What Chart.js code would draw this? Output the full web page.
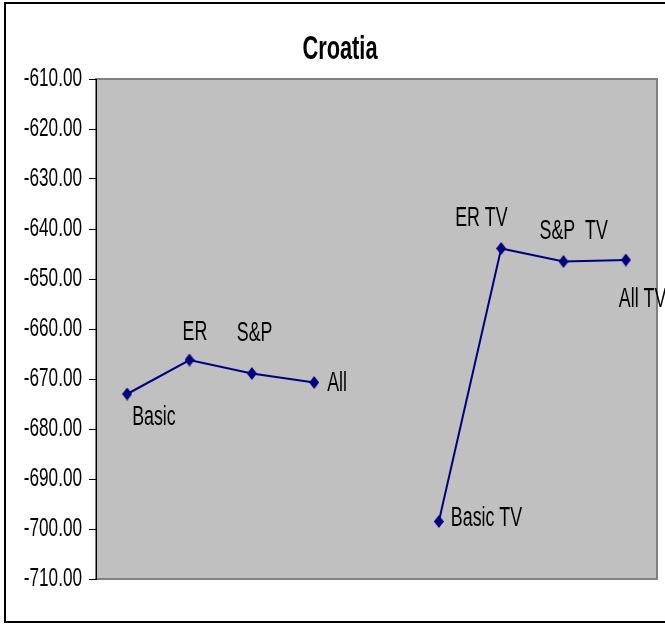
<!DOCTYPE html>
<html>
<head>
<meta charset="utf-8">
<script src="https://cdn.jsdelivr.net/npm/chart.js@4/dist/chart.umd.min.js"></script>
<style>
  html, body { margin: 0; padding: 0; background: #fff; overflow: hidden; }
  #wrap { position: relative; width: 665px; height: 626px; }
</style>
</head>
<body>
<div id="wrap"><canvas id="croatiaChart" width="665" height="626"></canvas></div>
<script>
// series for the Croatia panel; the empty slot splits the two groups
const categories = ['Basic', 'ER', 'S&P', 'All', '', 'Basic TV', 'ER TV', 'S&P  TV', 'All TV'];
const scores = [-673.0, -666.2, -668.9, -670.7, null, -698.5, -643.9, -646.5, -646.2];
const yTicks = [-710, -700, -690, -680, -670, -660, -650, -640, -630, -620, -610];

// where each point label sits relative to its marker (px)
const labelDx = [5, -7, -15, 13, 0, 12, -46, -24, -7];
const labelDy = [24, -27, -40, 1, 0, -3, -30, -30, 40];

const FONT = '"Liberation Sans", Arial, sans-serif';
const SQUEEZE = 0.66; // tall, condensed lettering

function narrowText(ctx, text, x, y, align) {
    ctx.save();
    ctx.translate(x, y);
    ctx.scale(SQUEEZE, 1);
    ctx.textAlign = align;
    ctx.textBaseline = 'middle';
    ctx.fillText(text, 0, 0);
    ctx.restore();
}

// slightly tall diamond marker
function diamond(w, h, color) {
    const c = document.createElement('canvas');
    c.width = w;
    c.height = h;
    const g = c.getContext('2d');
    g.fillStyle = color;
    g.beginPath();
    g.moveTo(w / 2, 0);
    g.lineTo(w, h / 2);
    g.lineTo(w / 2, h);
    g.lineTo(0, h / 2);
    g.closePath();
    g.fill();
    return c;
}

const framePlugin = {
    id: 'frame',
    beforeDraw(chart) {
        const { ctx, chartArea: a } = chart;
        ctx.save();
        // outer chart border
        ctx.strokeStyle = '#000';
        ctx.lineWidth = 2;
        ctx.strokeRect(5, 3, 720, 619);
        // grey plot area
        ctx.fillStyle = '#C0C0C0';
        ctx.fillRect(a.left, a.top, a.right - a.left, a.bottom - a.top);
        ctx.strokeStyle = '#808080';
        ctx.lineWidth = 2;
        ctx.strokeRect(a.left, a.top, a.right - a.left, a.bottom - a.top);
        // title
        ctx.fillStyle = '#000';
        ctx.font = 'bold 33px ' + FONT;
        narrowText(ctx, 'Croatia', 340, 50, 'center');
        // y tick labels
        const y = chart.scales.y;
        ctx.font = '26px ' + FONT;
        yTicks.forEach(v => narrowText(ctx, v.toFixed(2), 82, y.getPixelForValue(v), 'right'));
        ctx.restore();
    },
    afterDatasetsDraw(chart) {
        const { ctx } = chart;
        const meta = chart.getDatasetMeta(0);
        ctx.save();
        ctx.fillStyle = '#000';
        ctx.font = '27px ' + FONT;
        meta.data.forEach((pt, i) => {
            if (scores[i] === null) return;
            narrowText(ctx, categories[i], pt.x + labelDx[i], pt.y + labelDy[i], 'left');
        });
        ctx.restore();
    }
};

new Chart(document.getElementById('croatiaChart'), {
    type: 'line',
    data: {
        labels: categories,
        datasets: [{
            data: scores,
            borderColor: '#000080',
            borderWidth: 2,
            backgroundColor: '#000080',
            pointStyle: diamond(10, 13, '#000080'),
            spanGaps: false,
            tension: 0
        }]
    },
    options: {
        responsive: false,
        animation: false,
        events: [],
        layout: { padding: { left: 0, top: 79, right: 8, bottom: 47 } },
        plugins: {
            legend: { display: false },
            title: { display: false },
            tooltip: { enabled: false }
        },
        scales: {
            x: {
                display: false,
                offset: true
            },
            y: {
                min: -710,
                max: -610,
                afterBuildTicks(axis) {
                    axis.ticks = yTicks.map(v => ({ value: v }));
                },
                afterFit(axis) {
                    axis.width = 96;
                },
                border: { display: true, color: '#000', width: 1 },
                grid: {
                    drawOnChartArea: false,
                    drawTicks: true,
                    tickLength: 7,
                    color: '#000'
                },
                ticks: { display: false }
            }
        }
    },
    plugins: [framePlugin]
});
</script>
</body>
</html>
